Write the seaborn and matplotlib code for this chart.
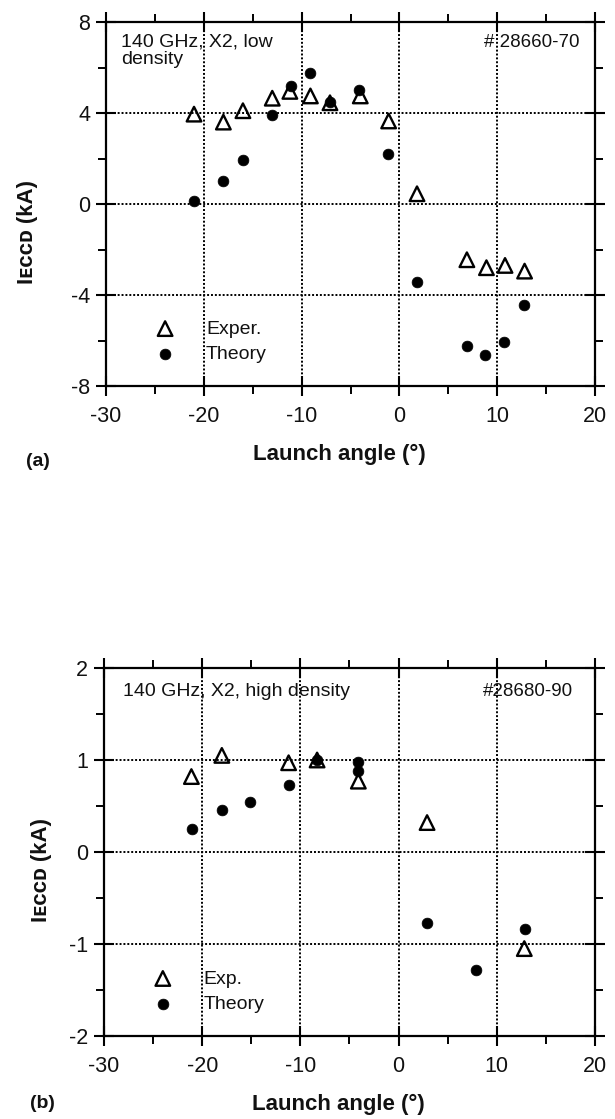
import matplotlib
matplotlib.use("Agg")
import matplotlib.pyplot as plt
from matplotlib.ticker import MultipleLocator
import seaborn as sns

# ---------------- data ----------------
# Panel (a): 140 GHz, X2, low density
angle_a_exp = [-21.0, -18.0, -16.0, -13.0, -11.2, -9.1, -7.1, -4.0, -1.1, 1.8, 6.9, 8.9, 10.8, 12.8]
iccd_a_exp = [3.95, 3.6, 4.1, 4.65, 4.95, 4.75, 4.45, 4.75, 3.65, 0.45, -2.45, -2.8, -2.7, -2.95]
angle_a_th = [-21.0, -18.0, -16.0, -13.0, -11.1, -9.1, -7.1, -4.1, -1.2, 1.8, 6.9, 8.8, 10.7, 12.7]
iccd_a_th = [0.15, 1.0, 1.95, 3.9, 5.2, 5.75, 4.5, 5.0, 2.2, -3.45, -6.25, -6.65, -6.05, -4.45]

# Panel (b): 140 GHz, X2, high density
angle_b_exp = [-21.1, -18.0, -11.2, -8.3, -4.1, 2.9, 12.8]
iccd_b_exp = [0.82, 1.05, 0.97, 1.0, 0.77, 0.32, -1.05]
angle_b_th = [-21.0, -18.0, -15.1, -11.2, -8.3, -4.1, -4.1, 2.9, 7.9, 12.9]
iccd_b_th = [0.25, 0.46, 0.54, 0.73, 1.0, 0.98, 0.88, -0.77, -1.28, -0.84]

xticks = [-30, -20, -10, 0, 10, 20]
yticks_a = [-8, -4, 0, 4, 8]
yticks_b = [-2, -1, 0, 1, 2]

title_a = "140 GHz, X2, low\ndensity"
title_b = "140 GHz, X2, high density"
shot_a = "# 28660-70"
shot_b = "#28680-90"
legend_a = ["Exper.", "Theory"]
legend_b = ["Exp.", "Theory"]
xlabel = "Launch angle (°)"
ylabel = "I\u1D07\u1D04\u1D04\u1D05 (kA)"

# ---------------- style ----------------
sns.set_theme(style="white")
FAM = ["Liberation Sans", "DejaVu Sans"]
plt.rcParams["font.family"] = FAM
plt.rcParams["axes.unicode_minus"] = False
INK = "#111111"

W, H = 615, 1119
fig = plt.figure(figsize=(W / 100, H / 100), dpi=100)
fig.patch.set_facecolor("white")

ax_a = fig.add_axes([106 / W, 1 - 386 / H, 489 / W, 364 / H])
ax_b = fig.add_axes([104 / W, 1 - 1036 / H, 491 / W, 368 / H])


def style_axes(ax, yticks, ylim, yminor, ylab_x, ylab_y):
    ax.set_facecolor("white")
    ax.set_xlim(-30, 20)
    ax.set_ylim(*ylim)
    ax.set_xticks(xticks)
    ax.set_yticks(yticks)
    ax.xaxis.set_minor_locator(MultipleLocator(5))
    ax.yaxis.set_minor_locator(MultipleLocator(yminor))
    ax.set_xticklabels([str(v) for v in xticks])
    ax.set_yticklabels([str(v) for v in yticks])
    for sp in ax.spines.values():
        sp.set_visible(True)
        sp.set_color("black")
        sp.set_linewidth(1.6)
    ax.tick_params(which="major", direction="inout", length=14, width=1.5,
                   color="black", top=True, right=True, left=True, bottom=True,
                   labelsize=15.5, labelcolor=INK)
    ax.tick_params(which="minor", direction="out", length=6, width=1.4,
                   color="black", top=True, right=True, left=True, bottom=True)
    ax.tick_params(axis="x", which="major", pad=7.5)
    ax.tick_params(axis="y", which="major", pad=4.5)
    ax.grid(True, which="major", color="black", linestyle=(0, (1, 1.0)), linewidth=1.4)
    ax.set_axisbelow(True)
    ax.set_xlabel(xlabel, fontsize=16, fontweight="bold", color=INK, family=FAM)
    ax.set_ylabel(ylabel, fontsize=16, fontweight="bold", color=INK, family=FAM)
    ax.xaxis.set_label_coords(0.477, -0.158)
    ax.yaxis.set_label_coords(ylab_x, ylab_y)


def draw(ax, ax_exp, y_exp, ax_th, y_th, labels):
    sns.scatterplot(x=ax_exp, y=y_exp, marker="^", s=110, color="black",
                    edgecolor="black", linewidth=1.7, ax=ax, label=labels[0], zorder=3)
    ax.collections[-1].set_facecolor("none")
    sns.scatterplot(x=ax_th, y=y_th, marker="o", s=60, color="black",
                    edgecolor="black", linewidth=0.5, ax=ax, label=labels[1], zorder=4)


draw(ax_a, angle_a_exp, iccd_a_exp, angle_a_th, iccd_a_th, legend_a)
draw(ax_b, angle_b_exp, iccd_b_exp, angle_b_th, iccd_b_th, legend_b)

style_axes(ax_a, yticks_a, (-8, 8), 2, -0.139, 0.423)
style_axes(ax_b, yticks_b, (-2, 2), 0.5, -0.106, 0.451)

for ax, x0, yc in [(ax_a, 0.101, 0.122), (ax_b, 0.1, 0.121)]:
    leg = ax.legend(loc="center left", bbox_to_anchor=(x0, yc), frameon=False,
                    fontsize=14, handlelength=1.0, handletextpad=1.6,
                    labelspacing=0.4, borderpad=0, borderaxespad=0,
                    scatterpoints=1)
    for t in leg.get_texts():
        t.set_color(INK)

txt_kw = dict(fontsize=14, color=INK, va="top", family=FAM)
ax_a.text(0.030, 0.968, title_a, transform=ax_a.transAxes, ha="left",
          linespacing=1.0, **txt_kw)
ax_a.text(0.969, 0.968, shot_a, transform=ax_a.transAxes, ha="right",
          fontsize=13.5, color=INK, va="top", family=FAM)
ax_b.text(0.038, 0.958, title_b, transform=ax_b.transAxes, ha="left", **txt_kw)
ax_b.text(0.956, 0.958, shot_b, transform=ax_b.transAxes, ha="right",
          fontsize=13.5, color=INK, va="top", family=FAM)

fig.text(26 / W, 1 - 453 / H, "(a)", fontsize=14, fontweight="bold",
         color=INK, va="top", ha="left", family=FAM)
fig.text(30 / W, 1 - 1095 / H, "(b)", fontsize=14, fontweight="bold",
         color=INK, va="top", ha="left", family=FAM)

fig.savefig("out.png", dpi=100, facecolor="white")
